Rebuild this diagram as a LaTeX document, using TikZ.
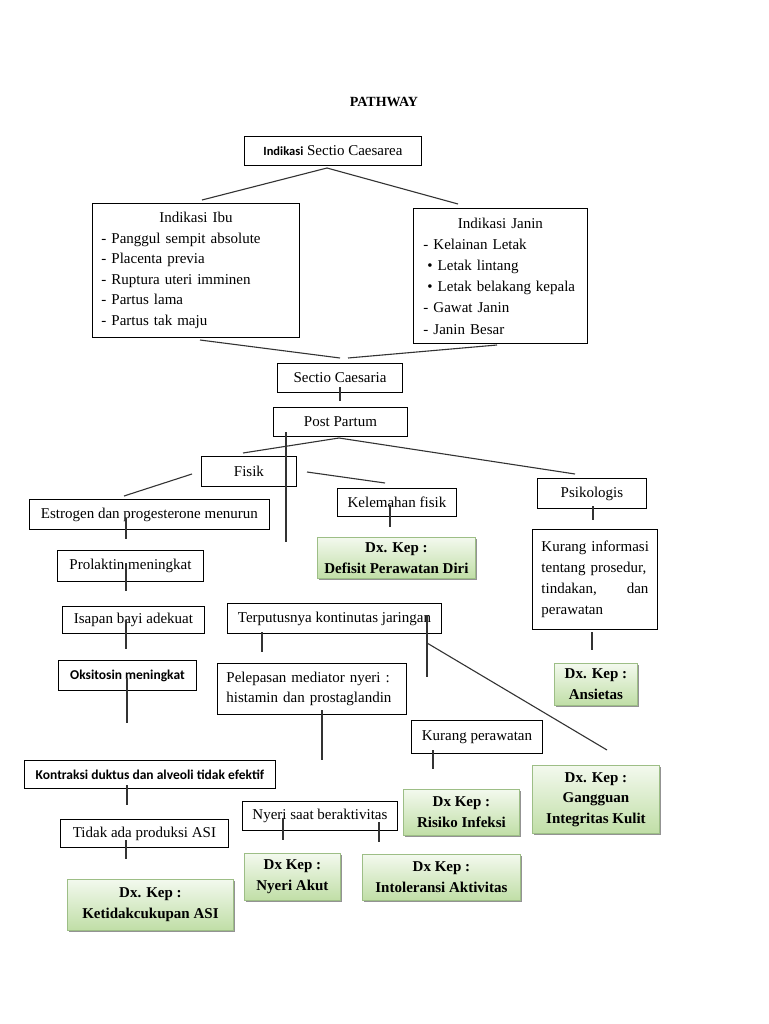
\documentclass[tikz,border=0pt]{standalone}
\usepackage{fontspec}
\setmainfont{Liberation Serif}
\newfontfamily\calib{Carlito}
\usetikzlibrary{shadows}
\definecolor{gtop}{HTML}{F3F9EE}
\definecolor{gbot}{HTML}{C0DEA6}
\definecolor{gline}{HTML}{9DBE86}
\begin{document}
\begin{tikzpicture}[x=1pt,y=-1pt,
  box/.style={draw=black, fill=white, line width=0.9pt, inner sep=0pt, anchor=north west,
    font=\fontsize{15}{20.6}\selectfont},
  sbox/.style={box, font=\calib\bfseries\fontsize{13.5}{16}\selectfont},
  dxbox/.style={draw=gline, line width=0.9pt, top color=gtop, bottom color=gbot, inner sep=0pt,
    anchor=north west, align=center, font=\fontsize{15}{20.6}\selectfont\bfseries,
    drop shadow={shadow xshift=1.6pt, shadow yshift=-1.6pt, fill=black!60, opacity=0.7}},
  link/.style={line width=1.1pt, draw=black!80}]
\useasboundingbox (0,0) rectangle (768,1024);
\fill[white] (0,0) rectangle (768,1024);

\node[font=\fontsize{14}{16}\selectfont\bfseries] (title) at (384,102) {PATHWAY};

\node[box, minimum width=177pt, minimum height=29pt] (isc) at (244,136)
  {{\calib\bfseries\fontsize{12.5}{14}\selectfont Indikasi} Sectio Caesarea};

\node[box, minimum width=207pt, minimum height=134pt, text width=189pt, align=left] (ibu) at (92,203)
  {\makebox[189pt]{Indikasi Ibu}\\
   - Panggul sempit absolute\\
   - Placenta previa\\
   - Ruptura uteri imminen\\
   - Partus lama\\
   - Partus tak maju};

\node[box, minimum width=174pt, minimum height=135pt, text width=154pt, align=left,
      font=\fontsize{15}{21.2}\selectfont] (janin) at (413,208)
  {\makebox[154pt]{Indikasi Janin}\\
   \mbox{- Kelainan Letak}\\
   \mbox{\hspace*{4pt}\textbullet\ Letak lintang}\\
   \mbox{\hspace*{4pt}\textbullet\ Letak belakang kepala}\\
   \mbox{- Gawat Janin}\\
   \mbox{- Janin Besar}};

\node[box, minimum width=125pt, minimum height=29pt] (sc) at (277,363) {Sectio Caesaria};
\node[box, minimum width=134pt, minimum height=29pt] (pp) at (273,407) {Post Partum};
\node[box, minimum width=95pt, minimum height=30pt] (fisik) at (201,456) {Fisik};
\node[box, minimum width=119pt, minimum height=28pt] (kel) at (337,488) {Kelemahan fisik};
\node[box, minimum width=109pt, minimum height=30pt] (psik) at (537,478) {Psikologis};
\node[box, minimum width=240pt, minimum height=30pt] (estro) at (29,499) {Estrogen dan progesterone menurun};
\node[box, minimum width=146pt, minimum height=31pt] (prol) at (57,550) {Prolaktin meningkat};
\node[box, minimum width=125pt, minimum height=100pt, text width=107pt, align=left,
      font=\fontsize{15}{21}\selectfont] (info) at (532,529)
  {\makebox[107pt][s]{Kurang informasi}\\
   \makebox[107pt][s]{tentang prosedur,}\\
   \makebox[107pt][s]{tindakan,\hfill dan}\\
   perawatan};
\node[box, minimum width=142pt, minimum height=27pt] (isap) at (62,606) {Isapan bayi adekuat};
\node[box, minimum width=214pt, minimum height=30pt] (terput) at (227,603) {Terputusnya kontinutas jaringan};
\node[sbox, minimum width=138pt, minimum height=30pt] (oksi) at (58,660) {Oksitosin meningkat};
\node[box, minimum width=189pt, minimum height=51pt, text width=171pt, align=left] (pelep) at (217,663)
  {\makebox[171pt][s]{Pelepasan mediator nyeri :}\\ histamin dan prostaglandin};
\node[box, minimum width=131pt, minimum height=33pt] (kurper) at (411,720) {Kurang perawatan};
\node[sbox, minimum width=251pt, minimum height=28pt] (kontr) at (24,760) {Kontraksi duktus dan alveoli tidak efektif};
\node[box, minimum width=168pt, minimum height=28pt] (tidak) at (60,819) {\raisebox{-3pt}{Tidak ada produksi ASI}};
\node[box, minimum width=155pt, minimum height=29pt] (nyeri) at (242,801) {Nyeri saat beraktivitas};

\node[dxbox, minimum width=158pt, minimum height=41pt] (dxdefisit) at (317,537) {Dx. Kep :\\ Defisit Perawatan Diri};
\node[dxbox, minimum width=83pt, minimum height=42pt] (dxansietas) at (554,663) {Dx. Kep :\\ Ansietas};
\node[dxbox, minimum width=116pt, minimum height=46pt] (dxrisiko) at (403,789) {Dx Kep :\\ Risiko Infeksi};
\node[dxbox, minimum width=127pt, minimum height=68pt] (dxganggu) at (532,765) {Dx. Kep :\\ Gangguan\\ Integritas Kulit};
\node[dxbox, minimum width=96pt, minimum height=47pt] (dxnyeri) at (244,853) {Dx Kep :\\ Nyeri Akut};
\node[dxbox, minimum width=158pt, minimum height=46pt] (dxintol) at (362,854) {Dx Kep :\\ Intoleransi Aktivitas};
\node[dxbox, minimum width=166pt, minimum height=51pt] (dxketid) at (67,879) {Dx. Kep :\\ Ketidakcukupan ASI};

\foreach \n/\ax/\ay/\bx/\by in {
  la/327/168/202/200, lb/327/168/458/204,
  lc/200/340/340/358, ld/497/345/348/358,
  le/340/387/340/401, lf/286/432/286/542,
  lg/339/438/243/453, lh/339/438/575/474,
  li/192/474/124/496, lj/307/472/385/483,
  lk/390/505/390/527, ll/126/518/126/539,
  lm/126/563/126/591, ln/593/506/593/520,
  lo/592/632/592/650, lp/126/620/126/649,
  lq/262/632/262/652, lr/427/615/427/677,
  ls/427/643/607/750, lt/127/678/127/723,
  lu/322/710/322/760, lv/433/750/433/769,
  lw/127/785/127/805, lx/126/840/126/859,
  ly/283/818/283/840, lz/379/822/379/842}
{
  \coordinate (\n-a) at (\ax,\ay);
  \coordinate (\n-b) at (\bx,\by);
  \draw[link] (\n-a) -- (\n-b);
}
\end{tikzpicture}
\end{document}
